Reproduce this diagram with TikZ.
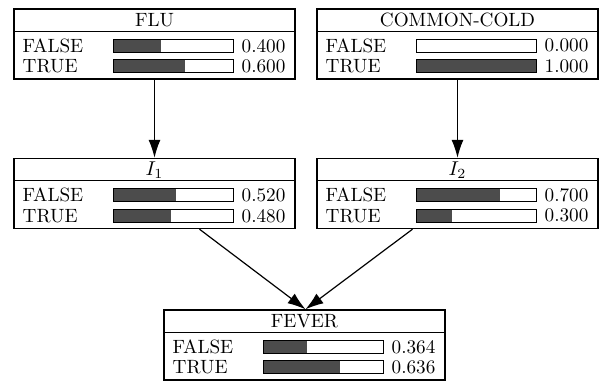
\documentclass[tikz,border=0pt]{standalone}
\usepackage{amsmath,amssymb}
\usetikzlibrary{arrows.meta,calc}

% one variable box: name, centre, title, P(FALSE), P(TRUE)
\newcommand{\bnvar}[5]{%
  \node[bnbox] (#1) at (#2) {};
  \draw[bnline] ($(#1.north west)+(0,23)$) -- ($(#1.north east)+(0,23)$);
  \node[bntext] (#1-title) at ($(#1.north)+(0,12)$) {#3};
  % FALSE row
  \node[bntext, anchor=west] (#1-f) at ($(#1.north west)+(9,37.5)$) {FALSE};
  \fill[barfill] ($(#1.north west)+(100,31)$) rectangle +({120*#4},13);
  \draw[bnline] ($(#1.north west)+(100,31)$) rectangle +(120,13);
  \node[bntext, anchor=west] (#1-fv) at ($(#1.north west)+(228,37.5)$) {#4};
  % TRUE row
  \node[bntext, anchor=west] (#1-t) at ($(#1.north west)+(9,58)$) {TRUE};
  \fill[barfill] ($(#1.north west)+(100,51.5)$) rectangle +({120*#5},13);
  \draw[bnline] ($(#1.north west)+(100,51.5)$) rectangle +(120,13);
  \node[bntext, anchor=west] (#1-tv) at ($(#1.north west)+(228,58)$) {#5};
}

\begin{document}
\begin{tikzpicture}[x=0.5pt,y=-0.5pt,
    bnbox/.style={draw, line width=0.7pt, inner sep=0pt,
      minimum width=140.5pt, minimum height=35pt},
    bnline/.style={line width=0.5pt},
    bntext/.style={inner sep=0pt, font=\fontsize{9.6}{11}\selectfont},
    barfill/.style={fill=black!70},
    link/.style={line width=0.6pt, -{Latex[length=9pt,width=6pt]}}]
  \useasboundingbox (0,0) rectangle (599,382);

  % Parents
  \bnvar{flu}{154.5,44}{FLU}{0.400}{0.600}
  \bnvar{cold}{457.5,44}{COMMON-COLD}{0.000}{1.000}

  % Intermediate nodes
  \bnvar{ione}{154.5,193.5}{$I_1$}{0.520}{0.480}
  \bnvar{itwo}{457.5,193.5}{$I_2$}{0.700}{0.300}

  % Child
  \bnvar{fever}{304.5,345}{FEVER}{0.364}{0.636}

  % Links
  \draw[link] (flu.south) -- (ione.north);
  \draw[link] (cold.south) -- (itwo.north);
  \draw[link] ($(ione.south)+(45,0)$) -- ($(fever.north)+(1,0)$);
  \draw[link] ($(itwo.south)+(-45,0)$) -- ($(fever.north)+(1,0)$);
\end{tikzpicture}
\end{document}
